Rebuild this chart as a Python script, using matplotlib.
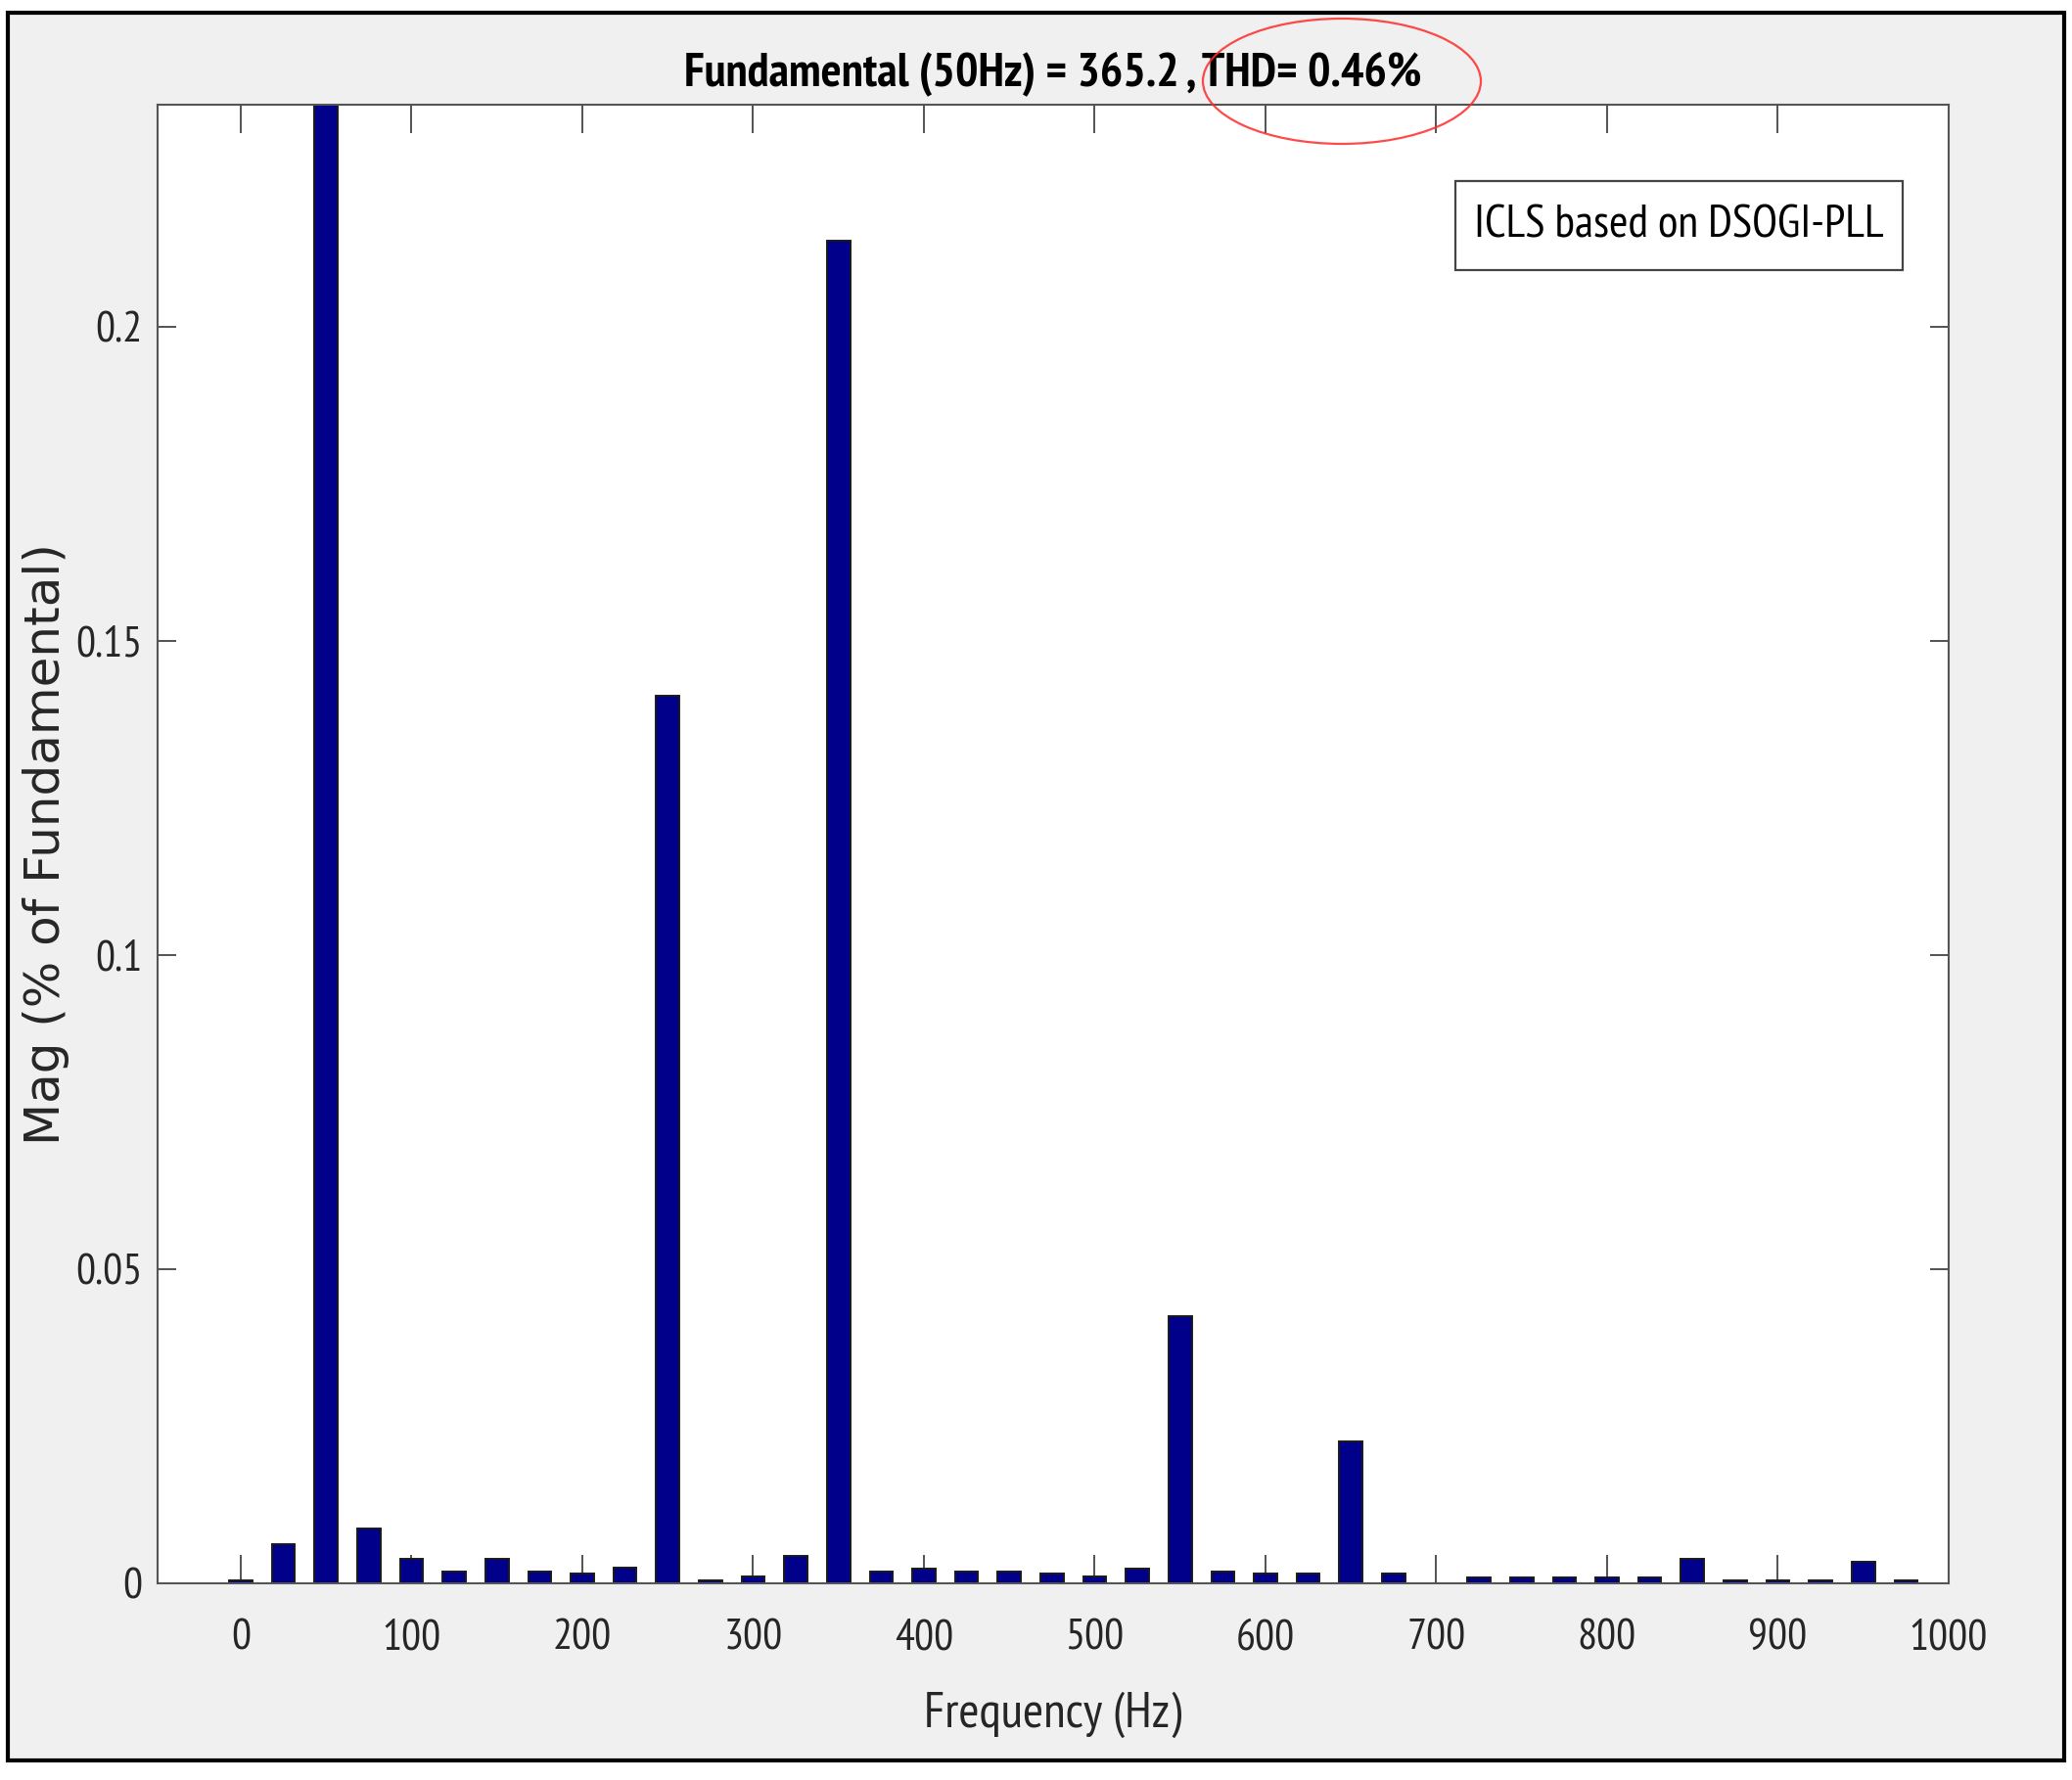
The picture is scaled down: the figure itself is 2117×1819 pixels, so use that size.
import matplotlib
matplotlib.use('Agg')
import matplotlib.pyplot as plt
from matplotlib import font_manager
from matplotlib.patches import Rectangle, Ellipse
from matplotlib.ticker import FormatStrFormatter

# harmonic spectrum (% of fundamental), 25 Hz bins
freqs = [0, 25, 50, 75, 100, 125, 150, 175, 200, 225,
         250, 275, 300, 325, 350, 375, 400, 425, 450, 475,
         500, 525, 550, 575, 600, 625, 650, 675, 700, 725,
         750, 775, 800, 825, 850, 875, 900, 925, 950, 975]
mags = [0.0005, 0.0063, 100.0, 0.0087, 0.0039, 0.0019, 0.0039, 0.0019, 0.0015, 0.0025,
        0.1413, 0.0005, 0.0011, 0.0043, 0.2137, 0.0019, 0.0023, 0.0019, 0.0019, 0.0015,
        0.0011, 0.0023, 0.0425, 0.0019, 0.0015, 0.0015, 0.0226, 0.0015, 0.0, 0.0010,
        0.0010, 0.0010, 0.0010, 0.0010, 0.0039, 0.0005, 0.0005, 0.0005, 0.0034, 0.0005]
xticks = [0, 100, 200, 300, 400, 500, 600, 700, 800, 900, 1000]
yticks = [0, 0.05, 0.1, 0.15, 0.2]
title_str = 'Fundamental (50Hz) = 365.2 , THD= 0.46%'
legend_str = 'ICLS based on DSOGI-PLL'

# narrow font for the squeezed MATLAB look
names = set(f.name for f in font_manager.fontManager.ttflist)
narrow, k = 'Liberation Sans', 0.85
for cand in ['PT Sans Narrow', 'Barlow Condensed', 'Roboto Condensed']:
    if cand in names:
        narrow, k = cand, 1.0
        break

W, H = 2117, 1819
fig = plt.figure(figsize=(W/100, H/100), dpi=100, facecolor='white')

# grey figure panel with black frame
fig.patches.append(Rectangle((7.5/W, 1-1799/H), (2109-7.5)/W, (1799-13.5)/H,
                             transform=fig.transFigure, facecolor='#f0f0f0',
                             edgecolor='black', lw=3, zorder=-5))

ax = fig.add_axes([161/W, 201/H, 1830/W, 1511/H])
ax.set_zorder(1)
ax.bar(freqs, mags, width=13.5, color='#00008b', edgecolor='#1a1a1a', lw=1.4, zorder=2)

ax.set_xlim(-48.7, 1000)
ax.set_ylim(0, 0.2353)
ax.set_xticks(xticks)
ax.set_yticks(yticks)
ax.yaxis.set_major_formatter(FormatStrFormatter('%g'))

for sp in ax.spines.values():
    sp.set_color('#555555')
    sp.set_linewidth(1.5)
ax.tick_params(axis='both', direction='in', top=True, right=True, width=1.3,
               color='#444444', labelcolor='#262626')
ax.tick_params(axis='x', length=21, pad=26)
ax.tick_params(axis='y', length=14, pad=11)
for lab in ax.get_xticklabels() + ax.get_yticklabels():
    lab.set_family(narrow)
    lab.set_fontsize(32*k)

ax.set_title(title_str, family=narrow, fontsize=35.5*k, weight='bold', pad=13.5, color='black')
ax.set_xlabel('Frequency (Hz)', family=narrow, fontsize=37*k, color='#262626')
ax.xaxis.set_label_coords(0.5, -0.0735)
ax.set_ylabel('Mag (% of Fundamental)', family='DejaVu Sans', fontsize=36, color='#262626')
ax.yaxis.set_label_coords(-0.0490, 0.5)

# legend-style label box
ax.add_patch(Rectangle((0.7246, 0.8882), 0.2497, 0.0602, transform=ax.transAxes,
                       facecolor='white', edgecolor='#444444', lw=1.6, zorder=5))
ax.text(0.8492, 0.9183, legend_str, transform=ax.transAxes, ha='center', va='center',
        family=narrow, fontsize=34*k, color='black', zorder=6)

# red highlight around THD value
fig.patches.append(Ellipse((1371/W, 1-83/H), 284/W, 128/H, transform=fig.transFigure,
                           fill=False, edgecolor='#ff2a2a', lw=1.6, alpha=0.85, zorder=10))

fig.savefig('out.png', dpi=100, facecolor=fig.get_facecolor())
